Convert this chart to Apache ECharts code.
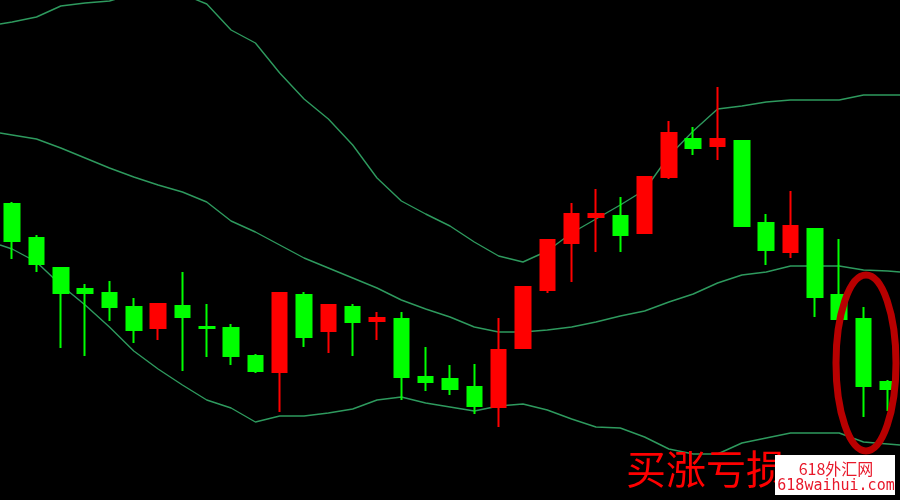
<!DOCTYPE html>
<html>
<head>
<meta charset="utf-8">
<script src="https://cdn.jsdelivr.net/npm/echarts@6/dist/echarts.min.js"></script>
<style>
html,body{margin:0;padding:0;background:#000;}
#c{width:900px;height:500px;}
</style>
</head>
<body>
<div id="c"></div>
<script>
// Candle data: [open, close, low, high] (price levels)
const candles = [
  [296,259,241,298],[262,236,228,265],[232,207,152,232],[211,207,144,216],
  [207,193,179,219],[193,170,157,202],[172,196,160,196],[194,183,129,228],
  [173,172,143,196],[172,144,135,176],[144,129,127,146],[128,207,88,208],
  [205,163,153,208],[169,195,147,195],[193,178,144,196],[179,182,160,188],
  [181,123,100,188],[123,118,109,153],[121,111,105,135],[113,94,86,136],
  [93,150,73,182],[152,213,152,213],[210,260,207,260],[257,286,218,297],
  [283,286,248,311],[284,265,248,303],[267,323,267,323],[323,367,321,379],
  [361,352,345,373],[354,361,340,413],[359,274,273,359],[277,250,235,286],
  [248,274,242,309],[271,203,183,271],[205,181,181,261],[181,114,83,193],
  [118,111,89,120]
];
const categories = candles.map((_, i) => 'K' + (i + 1));

// Bollinger bands: value at left edge, at each candle, at right edge
const upperBand = [476,478,483,494,497,499,506,510,506,496,470,457,427,401,381,355,322,299,286,274,258,244,238,249,267,281,295,310,344,369,391,394,398,400,400,400,405,405,405];
const middleBand = [367,365,361,352,342,332,323,315,308,298,279,268,255,242,232,222,212,200,191,183,173,168,168,170,173,178,184,189,198,206,217,225,228,234,234,234,230,229,228];
const lowerBand = [255,251,238,215,195,173,149,131,115,100,92,78,84,84,87,91,100,103,97,93,89,94,96,90,81,73,72,63,51,46,46,57,62,67,67,67,58,56,55];

const n = candles.length;
const bandX = [-0.5].concat(candles.map((_, i) => i), [n - 0.5]);
const toPts = arr => arr.map((v, i) => [bandX[i], v]);

const chart = echarts.init(document.getElementById('c'), null, {renderer: 'canvas'});
const bandStyle = {color: '#2e9a5e', width: 1.4};
const bandSeries = (name, arr) => ({
  name, type: 'line', xAxisIndex: 1, data: toPts(arr), symbol: 'none',
  lineStyle: bandStyle, silent: true, z: 1, animation: false, clip: true
});

chart.setOption({
  backgroundColor: '#000000',
  animation: false,
  grid: {left: -3, right: 0, top: 0, bottom: 0},
  xAxis: [
    {type: 'category', data: categories, boundaryGap: true, show: false},
    {type: 'value', min: -0.5, max: n - 0.5, show: false}
  ],
  yAxis: {type: 'value', min: 0, max: 500, show: false, splitLine: {show: false}},
  series: [
    bandSeries('upper', upperBand),
    bandSeries('middle', middleBand),
    bandSeries('lower', lowerBand),
    {
      type: 'candlestick', data: candles, barWidth: 15, z: 3,
      itemStyle: {
        color: '#ff0000', color0: '#00ff00',
        borderColor: '#ff0000', borderColor0: '#00ff00', borderWidth: 2
      }
    }
  ],
  graphic: [
    {type: 'ellipse', shape: {cx: 866, cy: 363, rx: 30, ry: 88},
     style: {fill: 'none', stroke: '#b80000', lineWidth: 7}, z: 10},
    {type: 'text', left: 626, top: 449,
     style: {text: '买涨亏损', fill: '#ff0000', fontSize: 40,
             fontFamily: 'Noto Sans CJK SC'}, z: 10},
    {type: 'rect', shape: {x: 775, y: 455, width: 120, height: 40},
     style: {fill: '#ffffff'}, z: 20},
    {type: 'text', x: 836, y: 469,
     style: {text: '618外汇网', fill: '#e8182a', fontSize: 16, align: 'center',
             verticalAlign: 'middle', fontFamily: 'Noto Sans CJK SC'}, z: 21},
    {type: 'text', x: 836, y: 486,
     style: {text: '618waihui.com', fill: '#e8182a', fontSize: 15, align: 'center',
             verticalAlign: 'middle', fontFamily: 'DejaVu Sans Mono'}, z: 21}
  ]
});
</script>
</body>
</html>
